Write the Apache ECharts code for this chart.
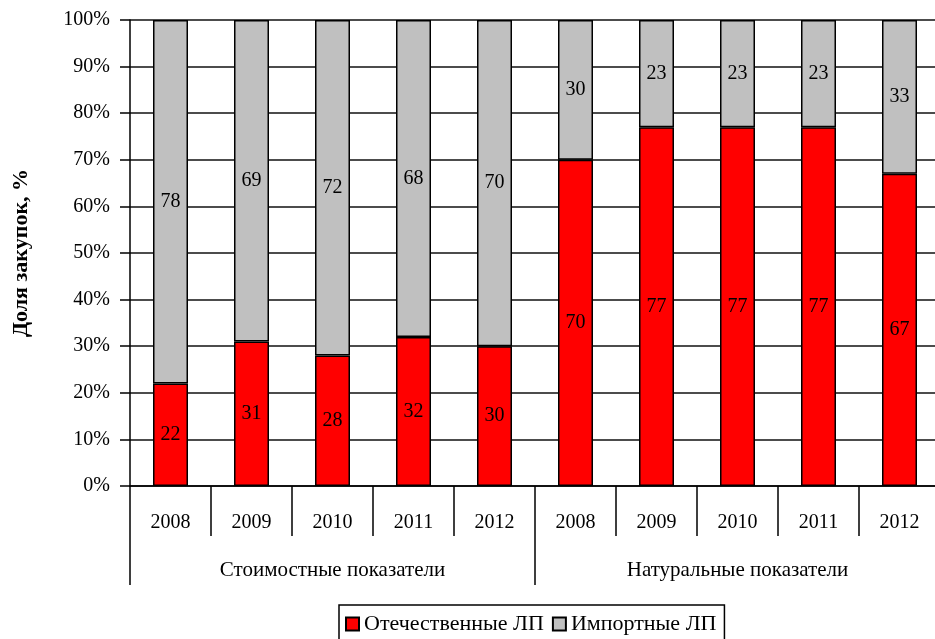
<!DOCTYPE html>
<html>
<head>
<meta charset="utf-8">
<script src="https://cdn.jsdelivr.net/npm/echarts@6/dist/echarts.min.js"></script>
<style>
  html, body { margin: 0; padding: 0; background: #fff; }
  #chart { width: 935px; height: 639px; }
</style>
</head>
<body>
<div id="chart"></div>
<script>
// данные
var years = ["2008", "2009", "2010", "2011", "2012", "2008", "2009", "2010", "2011", "2012"];
var groups = ["Стоимостные показатели", "Натуральные показатели"];
var domestic = [22, 31, 28, 32, 30, 70, 77, 77, 77, 67];
var imported = [78, 69, 72, 68, 70, 30, 23, 23, 23, 33];
var seriesNames = ["Отечественные ЛП", "Импортные ЛП"];

var font = "'Liberation Serif', 'DejaVu Serif', serif";

var chart = echarts.init(document.getElementById("chart"));

var labelStyle = {
  show: true,
  position: "inside",
  color: "#000",
  fontSize: 20,
  fontFamily: font
};

var option = {
  animation: false,
  grid: {
    left: 130,
    width: 810,
    top: 20,
    bottom: 153,
    outerBoundsMode: "none"
  },
  legend: {
    data: seriesNames,
    left: 339,
    top: 605,
    orient: "horizontal",
    icon: "rect",
    itemWidth: 13,
    itemHeight: 13,
    itemGap: 8,
    padding: [8, 8, 12, 6],
    borderColor: "#000",
    borderWidth: 1.5,
    backgroundColor: "#fff",
    textStyle: {
      color: "#000",
      fontSize: 22,
      fontFamily: font
    }
  },
  xAxis: [
    {
      type: "category",
      data: years,
      position: "bottom",
      axisLine: { show: true, lineStyle: { color: "#000", width: 1.5 } },
      axisTick: {
        show: true,
        interval: 0,
        length: 50,
        lineStyle: { color: "#000", width: 1.5 }
      },
      axisLabel: {
        interval: 0,
        margin: 27,
        color: "#000",
        fontSize: 20,
        fontFamily: font
      }
    },
    {
      // второй уровень подписей
      type: "category",
      data: groups,
      position: "bottom",
      axisLine: { show: false },
      axisTick: {
        show: true,
        length: 99,
        lineStyle: { color: "#000", width: 1.5 }
      },
      axisLabel: {
        margin: 74,
        color: "#000",
        fontSize: 21,
        fontFamily: font
      }
    }
  ],
  yAxis: {
    type: "value",
    min: 0,
    max: 100,
    interval: 10,
    name: "Доля закупок, %",
    nameLocation: "middle",
    nameGap: 98,
    nameRotate: 90,
    nameTextStyle: {
      color: "#000",
      fontSize: 22,
      fontWeight: "bold",
      fontFamily: font
    },
    axisLine: { show: true, lineStyle: { color: "#000", width: 1.5 } },
    axisTick: { show: true, length: 10, lineStyle: { color: "#000", width: 1.5 } },
    axisLabel: {
      formatter: "{value}%",
      margin: 20,
      color: "#000",
      fontSize: 20,
      fontFamily: font
    },
    splitLine: {
      show: true,
      lineStyle: { color: "#111", width: 1.5 }
    }
  },
  series: [
    {
      name: seriesNames[0],
      type: "bar",
      stack: "total",
      xAxisIndex: 0,
      data: domestic,
      barWidth: 35,
      itemStyle: { color: "#ff0000", borderColor: "#000", borderWidth: 1.5 },
      label: labelStyle
    },
    {
      name: seriesNames[1],
      type: "bar",
      stack: "total",
      xAxisIndex: 0,
      data: imported,
      barWidth: 35,
      itemStyle: { color: "#c0c0c0", borderColor: "#000", borderWidth: 1.5 },
      label: labelStyle
    }
  ]
};

chart.setOption(option);
</script>
</body>
</html>
